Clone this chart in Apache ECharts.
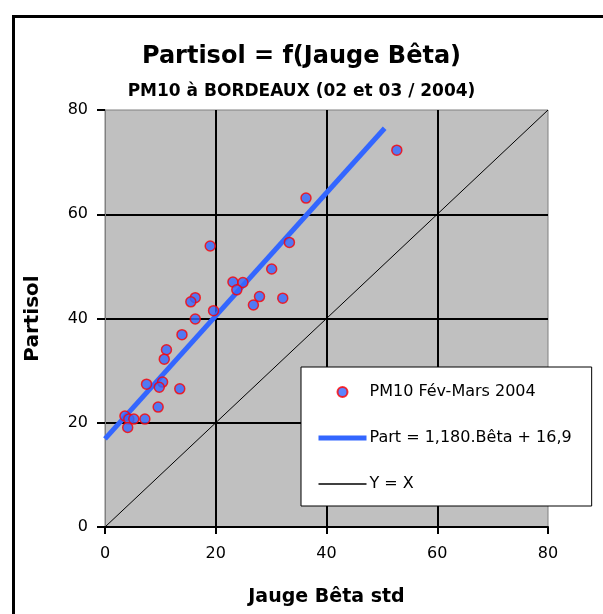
<!DOCTYPE html>
<html>
<head>
<meta charset="utf-8">
<script src="https://cdn.jsdelivr.net/npm/echarts@6/dist/echarts.min.js"></script>
<style>html,body{margin:0;padding:0;background:#fff;}#c{width:603px;height:614px;}</style>
</head>
<body>
<div id="c"></div>
<script>
// Scatter data: Jauge Bêta std (x) vs Partisol (y)
const betaValues     = [52.7, 36.3, 33.3, 30.1, 32.1, 23.1, 24.9, 23.8, 27.9, 26.8, 19.0, 19.6, 16.3, 15.5, 16.3, 13.9, 11.1, 10.7, 7.5, 10.4, 9.8, 13.5, 9.6, 3.6, 4.3, 5.2, 4.1, 7.2];
const partisolValues = [72.3, 63.1, 54.6, 49.5, 43.9, 47.0, 46.9, 45.5, 44.2, 42.6, 53.9, 41.5, 44.0, 43.2, 39.9, 36.9, 34.0, 32.2, 27.4, 27.8, 26.8, 26.5, 23.0, 21.3, 20.7, 20.7, 19.1, 20.7];
// Regression line end points (Part = 1,180.Bêta + 16,9)
const trendX = [0, 50.5];
const trendY = [16.9, 76.5];
// Identity line Y = X
const identityX = [0, 80];
const identityY = [0, 80];
const axisTicks = [0, 20, 40, 60, 80];

const seriesNames = ['PM10 Fév-Mars 2004', 'Part = 1,180.Bêta + 16,9', 'Y = X'];
const titleText = 'Partisol = f(Jauge Bêta)';
const subtitleText = 'PM10 à BORDEAUX (02 et 03 / 2004)';

const zip = (a, b) => a.map((v, i) => [v, b[i]]);
const FONT = 'DejaVu Sans';

const chart = echarts.init(document.getElementById('c'), null, {renderer: 'canvas'});
chart.setOption({
  animation: false,
  backgroundColor: '#ffffff',
  graphic: [{
    type: 'rect', left: 11, top: 14, z: -1,
    shape: {width: 700, height: 700},
    style: {fill: 'none', stroke: '#000', lineWidth: 3}
  }],
  title: [{
    text: titleText, left: 'center', top: 45, padding: [0, 0, 0, 11],
    textStyle: {fontFamily: FONT, fontSize: 24, fontWeight: 'bold', color: '#000'}
  }, {
    text: subtitleText, left: 'center', top: 83, padding: [0, 0, 0, 14],
    textStyle: {fontFamily: FONT, fontSize: 17, fontWeight: 'bold', color: '#000'}
  }],
  legend: {
    orient: 'vertical', left: 301, top: 367,
    backgroundColor: '#fff', borderColor: '#000', borderWidth: 1,
    padding: [17, 20, 14, 15],
    itemWidth: 48, itemHeight: 10, itemGap: 30,
    textStyle: {fontFamily: FONT, fontSize: 16, color: '#000', lineHeight: 16, padding: [0, 0, 0, -2]},
    data: [
      {name: seriesNames[0]},
      {name: seriesNames[1], itemStyle: {opacity: 0}, lineStyle: {width: 5, color: '#3366ff'}},
      {name: seriesNames[2], itemStyle: {opacity: 0}, lineStyle: {width: 1.3, color: '#000'}}
    ]
  },
  grid: {
    left: 105, top: 110, right: 55, bottom: 87,
    show: true, backgroundColor: '#c0c0c0', borderColor: '#808080', borderWidth: 1
  },
  xAxis: {
    type: 'value', min: axisTicks[0], max: axisTicks[axisTicks.length - 1], interval: 20,
    name: 'Jauge Bêta std', nameLocation: 'middle', nameGap: 61,
    nameTextStyle: {fontFamily: FONT, fontSize: 19, fontWeight: 'bold', color: '#000'},
    axisLine: {show: true, lineStyle: {color: '#000', width: 2}},
    axisTick: {show: true, length: 7, lineStyle: {color: '#000', width: 2}},
    axisLabel: {fontFamily: FONT, fontSize: 16, color: '#000', margin: 19},
    splitLine: {show: true, showMinLine: false, showMaxLine: false, lineStyle: {color: '#000', width: 2}}
  },
  yAxis: {
    type: 'value', min: axisTicks[0], max: axisTicks[axisTicks.length - 1], interval: 20,
    name: 'Partisol', nameLocation: 'middle', nameGap: 62, nameRotate: 90,
    nameTextStyle: {fontFamily: FONT, fontSize: 20, fontWeight: 'bold', color: '#000'},
    axisLine: {show: true, lineStyle: {color: '#808080', width: 1}},
    axisTick: {show: true, length: 8, lineStyle: {color: '#000', width: 2}},
    axisLabel: {fontFamily: FONT, fontSize: 16, color: '#000', margin: 17},
    splitLine: {show: true, showMinLine: false, showMaxLine: false, lineStyle: {color: '#000', width: 2}}
  },
  series: [{
    name: seriesNames[0], type: 'scatter', z: 5,
    symbol: 'circle', symbolSize: 10,
    itemStyle: {color: '#3366ff', borderColor: '#ff0000', borderWidth: 1.5},
    data: zip(betaValues, partisolValues)
  }, {
    name: seriesNames[1], type: 'line', z: 4,
    symbol: 'none', showSymbol: false,
    lineStyle: {color: '#3366ff', width: 5},
    itemStyle: {color: '#3366ff'},
    data: zip(trendX, trendY)
  }, {
    name: seriesNames[2], type: 'line', z: 3,
    symbol: 'none', showSymbol: false,
    lineStyle: {color: '#000', width: 1},
    itemStyle: {color: '#000'},
    data: zip(identityX, identityY)
  }]
});
</script>
</body>
</html>
